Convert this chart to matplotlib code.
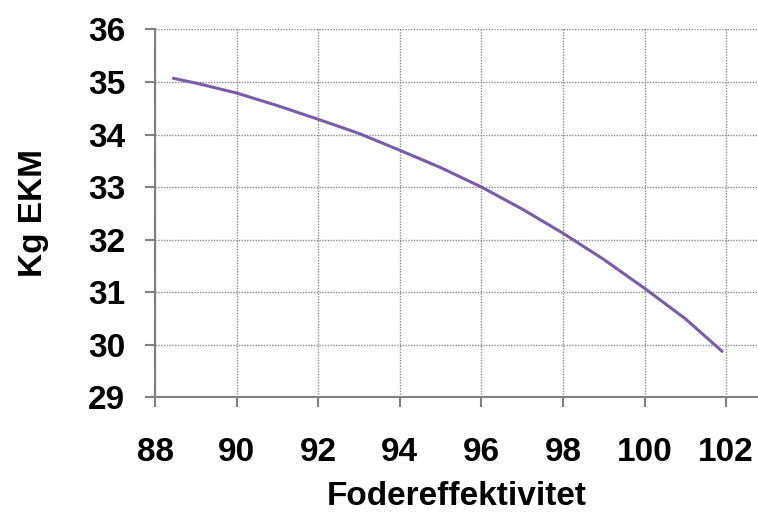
import matplotlib.pyplot as plt

# values
foder = [88.45, 89, 90, 91, 92, 93, 94, 95, 96, 97, 98, 99, 100, 101, 101.9]
kg_ekm = [35.07, 34.98, 34.79, 34.55, 34.29, 34.02, 33.70, 33.37, 33.00,
          32.58, 32.12, 31.62, 31.07, 30.49, 29.87]

x_ticks = [88, 90, 92, 94, 96, 98, 100, 102]
y_ticks = [29, 30, 31, 32, 33, 34, 35, 36]

plt.rcParams["font.family"] = ["Liberation Sans", "DejaVu Sans"]
plt.rcParams["font.weight"] = "bold"

fig = plt.figure(figsize=(7.58, 5.13), dpi=100)
ax = fig.add_axes([0.2045, 0.2261, 0.7955, 0.7164])

ax.plot(foder, kg_ekm, color="#7B5BA8", linewidth=2.2, solid_capstyle="round",
        solid_joinstyle="round")

ax.set_xlim(88, 102.78)
ax.set_ylim(29, 36)
ax.set_xticks(x_ticks)
ax.set_yticks(y_ticks)
ax.grid(True, color="#8a8a8a", linestyle=(0, (1, 1)), linewidth=1.0)

for s in ["top", "right"]:
    ax.spines[s].set_visible(False)
for s in ["left", "bottom"]:
    ax.spines[s].set_color("#808080")
    ax.spines[s].set_linewidth(1.5)

ax.tick_params(axis="both", colors="#808080", length=7.5, width=1.5, labelsize=24,
               labelcolor="black")
ax.tick_params(axis="y", pad=14)
ax.tick_params(axis="x", pad=21)
for lab in ax.get_xticklabels() + ax.get_yticklabels():
    lab.set_fontweight("bold")

ax.set_xlabel("Fodereffektivitet", fontsize=24, fontweight="bold", labelpad=10)
ax.set_ylabel("Kg EKM", fontsize=24, fontweight="bold", labelpad=28)

fig.savefig("out.png", dpi=100)
